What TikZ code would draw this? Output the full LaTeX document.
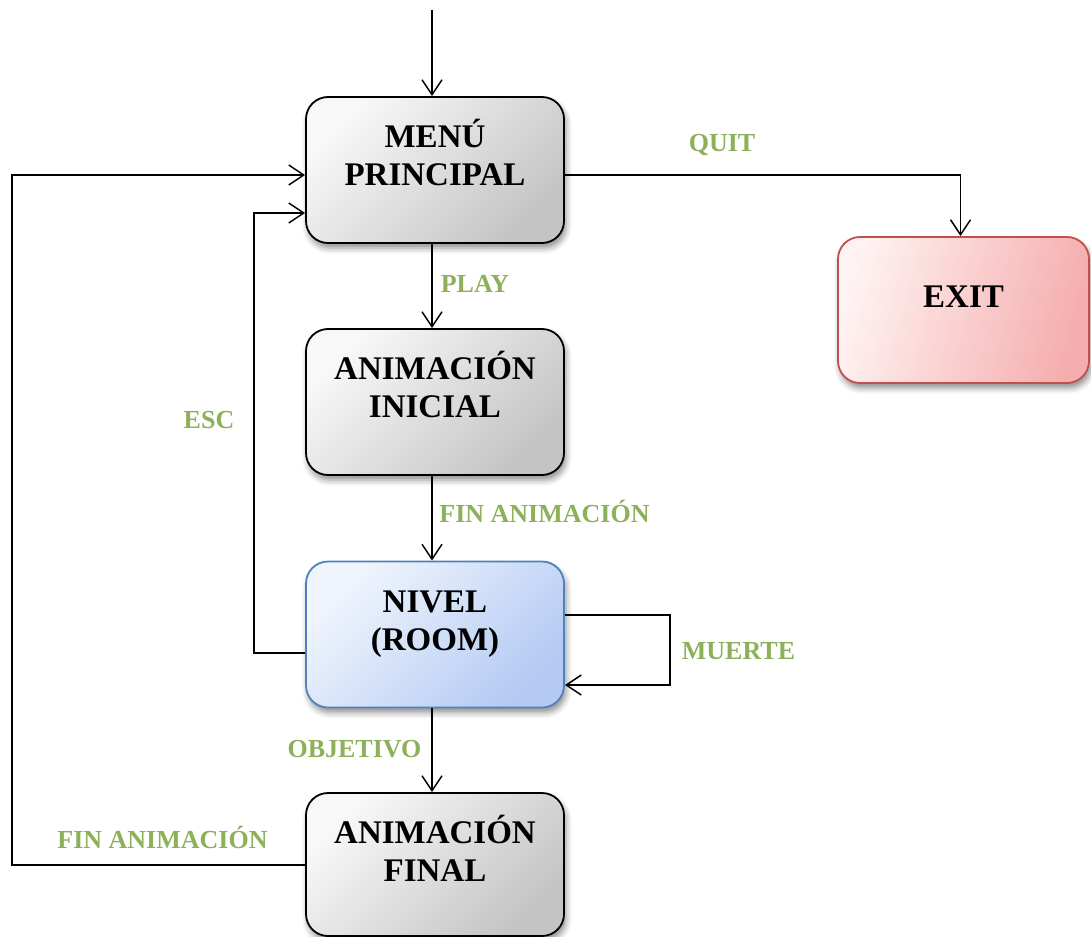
\documentclass[tikz,border=0pt]{standalone}
\usepackage{fontspec}
\setmainfont{Liberation Serif}
\usetikzlibrary{arrows.meta,shadows.blur}

\definecolor{lblgreen}{HTML}{8DB05A}
\definecolor{grayL}{HTML}{F8F8F8}
\definecolor{grayD}{HTML}{C4C4C4}
\definecolor{exitL}{HTML}{FFF2F2}
\definecolor{exitD}{HTML}{F5ADAD}
\definecolor{exitB}{HTML}{C0504D}
\definecolor{nivL}{HTML}{F0F5FD}
\definecolor{nivD}{HTML}{B4CAF3}
\definecolor{nivB}{HTML}{4F81BD}

\begin{document}
\begin{tikzpicture}[x=1pt,y=-1pt,
  box/.style={rounded corners=22pt, minimum width=258pt, minimum height=146pt,
    line width=1.8pt, inner sep=0pt,
    blur shadow={shadow xshift=2pt, shadow yshift=-5pt,
      shadow blur radius=6pt, shadow opacity=45}},
  graybox/.style={box, draw=black, top color=grayL, bottom color=grayD, shading angle=45},
  exitbox/.style={box, draw=exitB, top color=exitL, bottom color=exitD, shading angle=75},
  nivbox/.style={box, draw=nivB, top color=nivL, bottom color=nivD, shading angle=45},
  boxtxt/.style={font=\fontsize{33}{38}\selectfont\bfseries, inner sep=0pt, anchor=base},
  lbl/.style={text=lblgreen, font=\fontsize{26}{28}\selectfont\bfseries, inner sep=0pt, anchor=base},
  arr/.style={line width=1.5pt, -{Straight Barb[length=15pt,width=20pt,line width=1.5pt]}}
]
\useasboundingbox (0,0) rectangle (1091,936);

% states
\node[graybox] (menu) at (435,170) {};
\node[graybox] (ini) at (435,402) {};
\node[nivbox] (nivel) at (435,634.5) {};
\node[graybox, minimum height=143pt] (fin) at (435,864.5) {};
\node[exitbox, minimum width=251pt] (exit) at (963.5,310) {};

% state names
\node[boxtxt] (menu-t) at (435,147.5) {\begin{tabular}[t]{@{}c@{}}MENÚ\\PRINCIPAL\end{tabular}};
\node[boxtxt] (ini-t) at (435,379.5) {\begin{tabular}[t]{@{}c@{}}ANIMACIÓN\\INICIAL\end{tabular}};
\node[boxtxt] (nivel-t) at (435,612.5) {\begin{tabular}[t]{@{}c@{}}NIVEL\\(ROOM)\end{tabular}};
\node[boxtxt] (fin-t) at (435,843.5) {\begin{tabular}[t]{@{}c@{}}ANIMACIÓN\\FINAL\end{tabular}};
\node[boxtxt] (exit-t) at (963.5,307) {EXIT};

% routing points
\coordinate (start) at (432,10);
\coordinate (spine) at (432,0);
\coordinate (escturn) at (254,213);
\coordinate (mtop) at (670,615);
\coordinate (mbot) at (670,685);
\coordinate (outer) at (12,175);

% transitions
\draw[arr] (start) -- (menu.north -| spine);
\draw[arr] ([yshift=-5pt]menu.east) -| ([xshift=-3pt]exit.north);
\draw[arr] (menu.south -| spine) -- (ini.north -| spine);
\draw[arr] (ini.south -| spine) -- (nivel.north -| spine);
\draw[arr] (nivel.south -| spine) -- (fin.north -| spine);
\draw[arr] ([yshift=-18.5pt]nivel.west) -| (escturn) -- ([yshift=-43pt]menu.west);
\draw[arr] ([yshift=19.5pt]nivel.east) -- (mtop) -- (mbot) -- ([yshift=-50.5pt]nivel.east);
\draw[arr] ([yshift=-0.5pt]fin.west) -| (outer) -- ([yshift=-5pt]menu.west);

% transition labels
\node[lbl] (quit-l) at (722,152) {QUIT};
\node[lbl] (play-l) at (475,292) {PLAY};
\node[lbl] (fin1-l) at (544.5,522) {FIN ANIMACIÓN};
\node[lbl] (esc-l) at (209,428) {ESC};
\node[lbl] (muerte-l) at (738.5,659) {MUERTE};
\node[lbl] (obj-l) at (354.5,757) {OBJETIVO};
\node[lbl] (fin2-l) at (162.5,848) {FIN ANIMACIÓN};
\end{tikzpicture}
\end{document}
